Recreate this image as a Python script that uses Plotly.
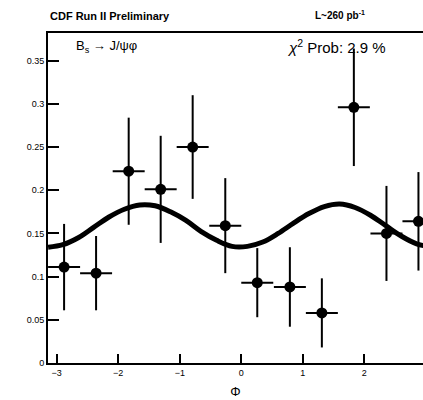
import plotly.graph_objects as go

# Data
phi = [-2.88, -2.36, -1.83, -1.31, -0.79, -0.26, 0.26, 0.79, 1.31, 1.83, 2.36, 2.88]
phi_err = [0.26] * 12
value = [0.111, 0.104, 0.222, 0.201, 0.250, 0.159, 0.093, 0.088, 0.058, 0.296, 0.150, 0.164]
value_err = [0.050, 0.043, 0.062, 0.062, 0.060, 0.055, 0.040, 0.046, 0.040, 0.068, 0.055, 0.057]

curve_phi = [-3.14, -2.9, -2.65, -2.4, -2.15, -1.9, -1.65, -1.4, -1.15, -0.9, -0.65, -0.4, -0.15,
             0.1, 0.35, 0.6, 0.85, 1.1, 1.35, 1.6, 1.85, 2.1, 2.35, 2.6, 2.85, 3.14]
curve_val = [0.134, 0.137, 0.145, 0.157, 0.169, 0.178, 0.183, 0.182, 0.175, 0.165, 0.152, 0.142, 0.135,
             0.135, 0.140, 0.150, 0.162, 0.173, 0.181, 0.184, 0.180, 0.171, 0.159, 0.147, 0.138, 0.134]

W, H = 423, 400
l, r, t, b = 48, 0, 33, 37
pw, ph = W - l - r, H - t - b
def px(xp):
    return (xp - l) / pw
def py(yp):
    return (H - b - yp) / ph

fig = go.Figure()
fig.add_trace(go.Scatter(x=curve_phi, y=curve_val, mode="lines",
                         line=dict(color="black", width=5, shape="spline"),
                         hoverinfo="skip", showlegend=False))
fig.add_trace(go.Scatter(x=phi, y=value, mode="markers",
                         marker=dict(color="black", size=11),
                         error_x=dict(type="data", array=phi_err, color="black", thickness=2, width=0),
                         error_y=dict(type="data", array=value_err, color="black", thickness=2, width=0),
                         showlegend=False))

tickfont = dict(family="Liberation Sans, Arial, sans-serif", size=9, color="black")

fig.update_layout(
    width=W, height=H,
    margin=dict(l=l, r=r, t=t, b=b),
    paper_bgcolor="white", plot_bgcolor="white",
    xaxis=dict(range=[-3.14159, 2.954], showgrid=False, zeroline=False,
               showline=True, linecolor="black", linewidth=2, mirror=True,
               ticks="inside", ticklen=9, tickwidth=2, tickcolor="black",
               tick0=0, dtick=1, tickfont=tickfont,
               title=dict(text="Φ", font=dict(family="Liberation Sans, Arial, sans-serif", size=13,
                                               color="black"), standoff=10)),
    yaxis=dict(range=[0, 0.382], showgrid=False, zeroline=False,
               showline=True, linecolor="black", linewidth=2, mirror=False,
               ticks="inside", ticklen=11, tickwidth=2, tickcolor="black",
               tick0=0, dtick=0.05, tickfont=tickfont),
    annotations=[
        dict(text="<b>CDF Run II Preliminary</b>", x=px(48), y=py(16), xref="paper", yref="paper",
             xanchor="left", yanchor="middle", showarrow=False,
             font=dict(family="Liberation Sans, Arial", size=11, color="black")),
        dict(text="<b>L~260 pb<sup>-1</sup></b>", x=px(313), y=py(15), xref="paper", yref="paper",
             xanchor="left", yanchor="middle", showarrow=False,
             font=dict(family="Liberation Sans, Arial", size=10, color="black")),
        dict(text="B<sub>s</sub> → J/ψφ", x=px(74), y=py(46), xref="paper", yref="paper",
             xanchor="left", yanchor="middle", showarrow=False,
             font=dict(family="Liberation Sans, Arial", size=13, color="black")),
        dict(text="<i>χ</i><sup>2</sup> Prob: 2.9 %", x=px(285), y=py(46), xref="paper", yref="paper",
             xanchor="left", yanchor="middle", showarrow=False,
             font=dict(family="Liberation Sans, Arial", size=15, color="black")),
    ],
)

fig.write_html("out.html")
